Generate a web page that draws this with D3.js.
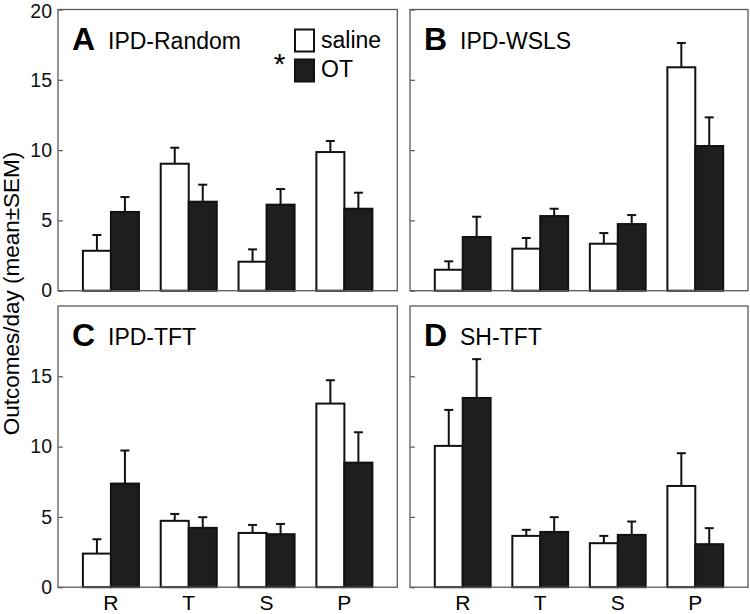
<!DOCTYPE html>
<html>
<head>
<meta charset="utf-8">
<script src="https://cdnjs.cloudflare.com/ajax/libs/d3/7.8.5/d3.min.js"></script>
<style>
  body { margin: 0; background: #fff; }
  svg { display: block; font-family: "Liberation Sans", Arial, Helvetica, sans-serif; }
</style>
</head>
<body>
<div id="chart"></div>
<script>
// data
var categories = ['R', 'T', 'S', 'P']
var groups = ['saline', 'OT']
var panelLetters = ['A', 'B', 'C', 'D']
var panelTitles = ['IPD-Random', 'IPD-WSLS', 'IPD-TFT', 'SH-TFT']

var salineMean = [
    [2.84, 9.03, 2.06, 9.86],
    [1.49, 2.99, 3.34, 15.89],
    [2.39, 4.72, 3.86, 13.06],
    [10.05, 3.65, 3.13, 7.2]
]
var salineSem = [
    [1.12, 1.14, 0.88, 0.79],
    [0.6, 0.76, 0.76, 1.73],
    [1.02, 0.49, 0.57, 1.66],
    [2.56, 0.43, 0.52, 2.33]
]
var otMean = [
    [5.6, 6.33, 6.12, 5.83],
    [3.82, 5.31, 4.74, 10.29],
    [7.37, 4.22, 3.77, 8.86],
    [13.46, 3.93, 3.72, 3.06]
]
var otSem = [
    [1.06, 1.21, 1.11, 1.14],
    [1.44, 0.52, 0.64, 2.04],
    [2.35, 0.76, 0.73, 2.16],
    [2.76, 1.05, 0.95, 1.14]
]
var yTicksTop = [0, 5, 10, 15, 20]
var yTicksBottom = [0, 5, 10, 15]

var width = 750, height = 614
var colLeft = [58, 410], colWidth = [339.3, 338]
var rowTop = [9.5, 306], rowHeight = 281.2

var svg = d3.select('#chart').append('svg')
    .attr('width', width)
    .attr('height', height)

var frameColor = '#5a5a5a'

panelLetters.forEach(function (letter, i) {
    var col = i % 2, row = Math.floor(i / 2)
    var w = colWidth[col], h = rowHeight

    var g = svg.append('g')
        .attr('transform', `translate(${colLeft[col]},${rowTop[row]})`)

    var y = d3.scaleLinear().domain([0, 20]).range([h, 0])
    var x0 = d3.scaleBand().domain(categories).range([0, w])
        .paddingInner(0.28).paddingOuter(0.32)
    var x1 = d3.scaleBand().domain(groups).range([0, x0.bandwidth()])

    // ticks (inward), labels only on left column
    var axis = d3.axisLeft(y)
        .tickValues(row === 0 ? yTicksTop : yTicksBottom)
        .tickSizeInner(-5)
        .tickSizeOuter(0)
        .tickPadding(6)
    if (col === 1) axis.tickFormat('')
    var ax = g.append('g').call(axis)
    ax.select('.domain').remove()
    ax.selectAll('line').attr('stroke', frameColor).attr('stroke-width', 1.2)
    ax.selectAll('text').attr('font-size', 19.5).attr('fill', '#111')
        .attr('font-family', '"Liberation Sans", Arial, sans-serif')
    // top label sits right at the page edge
    ax.selectAll('text').filter(d => d === 20).attr('dy', '0.4em')

    var rows = categories.map(function (c, j) {
        return [
            { cat: c, grp: 'saline', v: salineMean[i][j], e: salineSem[i][j] },
            { cat: c, grp: 'OT', v: otMean[i][j], e: otSem[i][j] }
        ]
    })
    var flat = [].concat.apply([], rows)

    // error bars (upper only)
    var eb = g.selectAll('.eb').data(flat).enter().append('g')
        .attr('transform', d => `translate(${x0(d.cat) + x1(d.grp) + x1.bandwidth() / 2},0)`)
    eb.append('line')
        .attr('y1', d => y(d.v)).attr('y2', d => y(d.v + d.e))
        .attr('stroke', '#111').attr('stroke-width', 2)
    eb.append('line')
        .attr('x1', -4.5).attr('x2', 4.5)
        .attr('y1', d => y(d.v + d.e)).attr('y2', d => y(d.v + d.e))
        .attr('stroke', '#111').attr('stroke-width', 2)

    // bars
    g.selectAll('.bar').data(flat).enter().append('rect')
        .attr('x', d => x0(d.cat) + x1(d.grp))
        .attr('width', x1.bandwidth())
        .attr('y', d => y(d.v))
        .attr('height', d => y(0) - y(d.v))
        .attr('fill', d => d.grp === 'saline' ? '#fff' : '#1e1e1e')
        .attr('stroke', '#111')
        .attr('stroke-width', 2)

    // frame
    g.append('rect')
        .attr('width', w).attr('height', h)
        .attr('fill', 'none')
        .attr('stroke', frameColor)
        .attr('stroke-width', 1.3)

    // panel label
    g.append('text')
        .attr('x', 14).attr('y', 40)
        .attr('font-size', 32).attr('font-weight', 'bold')
        .text(letter)
    g.append('text')
        .attr('x', 50).attr('y', 39)
        .attr('font-size', 23)
        .text(panelTitles[i])

    // category labels below bottom row
    if (row === 1) {
        g.selectAll('.xl').data(categories).enter().append('text')
            .attr('x', d => x0(d) + x0.bandwidth() / 2)
            .attr('y', h + 22.5)
            .attr('text-anchor', 'middle')
            .attr('font-size', 21)
            .text(d => d)
    }

    // legend in panel A
    if (i === 0) {
        var leg = g.append('g').attr('transform', 'translate(237,20)')
        groups.forEach(function (gr, k) {
            leg.append('rect')
                .attr('x', 0).attr('y', k * 30)
                .attr('width', 19).attr('height', 22)
                .attr('fill', gr === 'saline' ? '#fff' : '#1e1e1e')
                .attr('stroke', '#111').attr('stroke-width', 2)
            leg.append('text')
                .attr('x', 26).attr('y', k * 28.5 + 18.5)
                .attr('font-size', 23)
                .text(gr)
        })
        g.append('text')
            .attr('x', 221.5).attr('y', 64.5)
            .attr('text-anchor', 'middle')
            .attr('font-size', 30)
            .text('*')
    }
})

// y axis title
svg.append('text')
    .attr('transform', 'translate(19,293.5) rotate(-90)')
    .attr('text-anchor', 'middle')
    .attr('font-size', 22.5)
    .text('Outcomes/day (mean±SEM)')
</script>
</body>
</html>
